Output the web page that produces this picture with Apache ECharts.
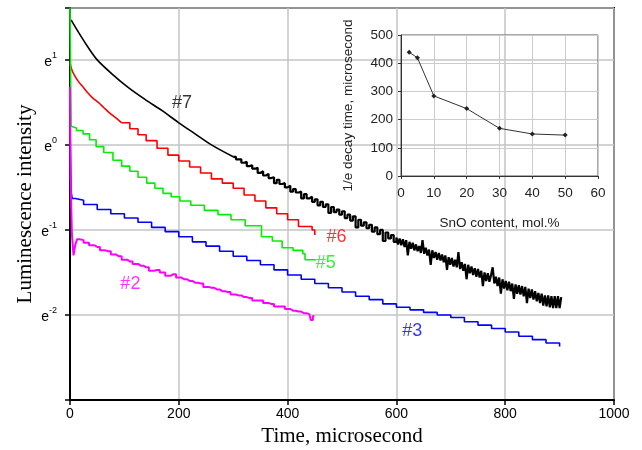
<!DOCTYPE html>
<html>
<head>
<meta charset="utf-8">
<script src="https://cdn.jsdelivr.net/npm/echarts@6/dist/echarts.min.js"></script>
<style>
  html, body { margin: 0; padding: 0; background: #fff; }
  #main { width: 642px; height: 450px; }
</style>
</head>
<body>
<div id="main"></div>
<script>
// luminescence decay, y values are ln(intensity), x is time in microseconds
// #7: smooth until ~300 us, then noisy
var black7 = [[2,1.47],[16,1.32],[32,1.16],[50,1.0],[78,0.83],[108,0.67],[139,0.53],[170,0.40],[200,0.26],[230,0.13],[260,0.0],[300,-0.14],
  [305,-0.17],[310,-0.17],[315,-0.21],[320,-0.20],[325,-0.25],[330,-0.24],[335,-0.28],[340,-0.27],[345,-0.33],[350,-0.31],[355,-0.36],[360,-0.34],[365,-0.39],[370,-0.38],[375,-0.45],[380,-0.41],[385,-0.46],[390,-0.45],[395,-0.50],[400,-0.48],
  [405,-0.55],[410,-0.52],[415,-0.56],[420,-0.55],[425,-0.63],[430,-0.58],[435,-0.63],[440,-0.61],[445,-0.67],[450,-0.64],[455,-0.71],[460,-0.67],[465,-0.73],[470,-0.70],[475,-0.80],[480,-0.73],[485,-0.79],[490,-0.76],[495,-0.82],[500,-0.78],
  [505,-0.86],[510,-0.82],[515,-0.89],[520,-0.84],[525,-0.97],[530,-0.88],[535,-0.95],[540,-0.91],[545,-0.98],[550,-0.94],[555,-1.02],[560,-0.97],[565,-1.05],[570,-1.00],[575,-1.13],[580,-1.03],[585,-1.10],[590,-1.06],[595,-1.14],[600,-1.09],
  [603,-1.17],[606,-1.10],[609,-1.18],[612,-1.11],[615,-1.20],[618,-1.12],[621,-1.30],[624,-1.14],[627,-1.22],[630,-1.15],[633,-1.24],[636,-1.17],[639,-1.25],[642,-1.19],[645,-1.27],[648,-1.12],[651,-1.28],[654,-1.21],[657,-1.30],[660,-1.23],
  [663,-1.41],[666,-1.24],[669,-1.33],[672,-1.26],[675,-1.35],[678,-1.27],[681,-1.36],[684,-1.29],[687,-1.38],[690,-1.30],[693,-1.47],[696,-1.32],[699,-1.41],[702,-1.33],[705,-1.43],[708,-1.35],[711,-1.44],[714,-1.26],[717,-1.46],[720,-1.38],
  [723,-1.48],[726,-1.40],[729,-1.58],[732,-1.41],[735,-1.51],[738,-1.43],[741,-1.53],[744,-1.45],[747,-1.55],[750,-1.46],[753,-1.56],[756,-1.48],[759,-1.66],[762,-1.50],[765,-1.60],[768,-1.51],[771,-1.61],[774,-1.53],[777,-1.44],[780,-1.63],
  [783,-1.55],[786,-1.66],[789,-1.56],[792,-1.75],[795,-1.58],[798,-1.69],[801,-1.60],[804,-1.71],[807,-1.61],[810,-1.72],[813,-1.63],[816,-1.81],[819,-1.64],[822,-1.75],[825,-1.65],[828,-1.76],[831,-1.66],[834,-1.78],[837,-1.67],[840,-1.86],
  [843,-1.69],[846,-1.80],[849,-1.70],[852,-1.82],[855,-1.72],[858,-1.84],[861,-1.74],[864,-1.86],[867,-1.75],[870,-1.89],[873,-1.77],[876,-1.90],[879,-1.77],[882,-1.91],[885,-1.78],[888,-1.92],[891,-1.78],[894,-1.92],[897,-1.78],[900,-1.92],[903,-1.79]];
var red6 = [[0,0.97],[3,0.89],[8,0.82],[15,0.75],[24,0.68],[33,0.61],[42,0.55],[52,0.50],[62,0.44],[72,0.38],[82,0.33],[95,0.26],[110,0.19],[125,0.12],[140,0.05],[160,-0.04],[180,-0.12],[200,-0.19],[220,-0.26],[240,-0.33],[260,-0.40],[280,-0.45],[300,-0.51],[320,-0.59],[340,-0.66],[360,-0.74],[380,-0.81],[400,-0.88],[420,-0.96],[445,-1.00],[450,-1.06]];
var green5 = [[0,1.62],[2,0.22],[5,0.20],[12,0.17],[24,0.13],[36,0.06],[48,-0.02],[62,-0.09],[79,-0.18],[95,-0.25],[110,-0.31],[125,-0.38],[141,-0.45],[156,-0.51],[171,-0.57],[186,-0.61],[202,-0.66],[222,-0.71],[247,-0.77],[272,-0.82],[296,-0.88],[322,-0.95],[352,-1.08],[372,-1.13],[390,-1.21],[410,-1.24],[428,-1.28],[432,-1.35],[452,-1.35]];
var blue3 = [[0,0.26],[2,-0.55],[4,-0.63],[10,-0.65],[25,-0.70],[50,-0.76],[75,-0.81],[100,-0.86],[125,-0.91],[150,-0.97],[175,-1.02],[200,-1.08],[225,-1.14],[250,-1.19],[275,-1.25],[300,-1.31],[325,-1.36],[350,-1.41],[375,-1.47],[400,-1.53],[425,-1.58],[450,-1.63],[475,-1.68],[500,-1.73],[525,-1.78],[550,-1.82],[575,-1.87],[600,-1.91],[625,-1.94],[650,-1.97],[675,-2.00],[700,-2.03],[725,-2.08],[750,-2.12],[775,-2.16],[800,-2.20],[825,-2.25],[850,-2.29],[875,-2.33],[900,-2.37]];
var magenta2 = [[0,0.68],[2,-0.4],[5,-1.05],[8,-1.30],[11,-1.18],[15,-1.11],[20,-1.12],[30,-1.15],[40,-1.18],[50,-1.20],[60,-1.24],[70,-1.25],[80,-1.29],[90,-1.31],[100,-1.35],[110,-1.37],[120,-1.40],[130,-1.42],[140,-1.44],[150,-1.48],[160,-1.47],[170,-1.50],[180,-1.54],[190,-1.52],[200,-1.56],[210,-1.58],[220,-1.60],[230,-1.62],[240,-1.63],[250,-1.67],[260,-1.68],[270,-1.70],[280,-1.72],[290,-1.73],[300,-1.76],[310,-1.77],[320,-1.79],[330,-1.80],[340,-1.83],[350,-1.83],[360,-1.86],[370,-1.87],[380,-1.90],[390,-1.90],[400,-1.93],[410,-1.95],[420,-1.96],[430,-1.98],[440,-1.99],[445,-2.06],[448,-2.01],[450,-2.02]];

// curve tags, placed in data units
var tagNames = ['#7', '#6', '#5', '#3', '#2'];
var tagPos = [[206,0.49],[490,-1.08],[470,-1.39],[629,-2.19],[111,-1.64]];

// inset: 1/e decay time vs SnO content
var snoContent = [2.5, 5, 10, 20, 30, 40, 50];
var decayTime = [439, 419, 284, 239, 169, 149, 145];

var colors = ['#000000', '#ff0000', '#00f000', '#0000ff', '#ff00ff'];
var sans = 'Liberation Sans';
var serif = 'Liberation Serif';

var myChart = echarts.init(document.getElementById('main'));

function curve(data, color, step, smooth, width) {
  return {
    type: 'line',
    xAxisIndex: 0,
    yAxisIndex: 0,
    data: data,
    step: step || false,
    smooth: smooth || false,
    showSymbol: false,
    symbol: 'none',
    lineStyle: { color: color, width: width || 1.6 },
    z: 3
  };
}

var option = {
  animation: false,
  backgroundColor: '#fff',
  grid: [
    { left: 70, right: 28, top: 8, bottom: 50, show: true, borderColor: '#000', borderWidth: 2, outerBoundsMode: 'none' },
    { left: 401, top: 35, width: 197, height: 141, show: true, borderColor: '#555', borderWidth: 1, z: 5, outerBoundsMode: 'none' }
  ],
  xAxis: [
    {
      gridIndex: 0, type: 'value', min: 0, max: 1000, interval: 200,
      name: 'Time, microsecond', nameLocation: 'middle', nameGap: 26, nameMoveOverlap: false,
      nameTextStyle: { fontFamily: serif, fontSize: 21, color: '#000' },
      axisLine: { onZero: false, lineStyle: { color: '#000', width: 2 } },
      axisTick: { show: true, length: 5, lineStyle: { color: '#000', width: 1.5 } },
      axisLabel: { fontFamily: sans, fontSize: 14, color: '#000', margin: 7, formatter: function (v) { return String(v); } },
      splitLine: { lineStyle: { color: '#c4c4c4', width: 1.5 } }
    },
    {
      gridIndex: 1, type: 'value', min: 0, max: 60, interval: 10,
      name: 'SnO content, mol.%', nameLocation: 'middle', nameGap: 40,
      nameTextStyle: { fontFamily: sans, fontSize: 13.5, color: '#222' },
      axisLine: { onZero: false, lineStyle: { color: '#333', width: 1 } },
      axisTick: { show: true, length: 3, lineStyle: { color: '#333' } },
      axisLabel: { fontFamily: sans, fontSize: 13.5, color: '#222', margin: 10 },
      splitLine: { lineStyle: { color: '#cccccc', width: 1 } },
      z: 5
    }
  ],
  yAxis: [
    {
      gridIndex: 0, type: 'value', min: -3, max: 1.61, interval: 1,
      name: 'Luminescence intensity', nameLocation: 'middle', nameGap: 34, nameMoveOverlap: false,
      nameTextStyle: { fontFamily: serif, fontSize: 21, color: '#000' },
      axisLine: { lineStyle: { color: '#000', width: 2 } },
      axisTick: { show: true, length: 5, lineStyle: { color: '#000', width: 1.5 } },
      axisLabel: {
        margin: 13,
        formatter: function (v) {
          var n = Math.round(v);
          if (Math.abs(v - n) > 1e-6 || n < -2) return '';
          return '{b|e}{s|' + n + '}';
        },
        rich: {
          b: { fontFamily: sans, fontSize: 14, color: '#000', lineHeight: 18, verticalAlign: 'bottom' },
          s: { fontFamily: sans, fontSize: 9, color: '#000', lineHeight: 18, verticalAlign: 'top' }
        }
      },
      splitLine: { lineStyle: { color: '#c4c4c4', width: 1.5 } }
    },
    {
      gridIndex: 1, type: 'value', min: 0, max: 500, interval: 100,
      name: '1/e decay time, microsecond', nameLocation: 'middle', nameGap: 46,
      nameTextStyle: { fontFamily: sans, fontSize: 13.5, color: '#222' },
      axisLine: { lineStyle: { color: '#333', width: 1 } },
      axisTick: { show: true, length: 3, lineStyle: { color: '#333' } },
      axisLabel: { fontFamily: sans, fontSize: 13.5, color: '#222', margin: 8 },
      splitLine: { lineStyle: { color: '#cccccc', width: 1 } },
      z: 5
    }
  ],
  series: [
    curve(black7.slice(0, 12), colors[0], false, 0.3),
    curve(black7.slice(11), colors[0], 'end', false, 2.2),
    curve(red6.slice(0, 12), colors[1], false, 0.3),
    curve(red6.slice(11), colors[1], 'end'),
    curve(green5, colors[2], 'end'),
    curve(blue3, colors[3], 'end'),
    curve(magenta2, colors[4], 'middle', false, 2),
    {
      type: 'scatter',
      xAxisIndex: 0,
      yAxisIndex: 0,
      symbolSize: 0,
      data: tagPos.map(function (p, i) {
        return { value: p, label: { color: colors[i] } };
      }),
      label: {
        show: true,
        position: 'inside',
        fontFamily: sans,
        fontSize: 18,
        formatter: function (p) { return tagNames[p.dataIndex]; }
      },
      z: 4
    },
    {
      type: 'line',
      xAxisIndex: 1,
      yAxisIndex: 1,
      data: snoContent.map(function (x, i) { return [x, decayTime[i]]; }),
      symbol: 'diamond',
      symbolSize: 5,
      itemStyle: { color: '#222' },
      lineStyle: { color: '#333', width: 1 },
      z: 6
    }
  ]
};

myChart.setOption(option);
window.addEventListener('resize', function () {
  myChart.resize();
});
</script>
</body>
</html>
